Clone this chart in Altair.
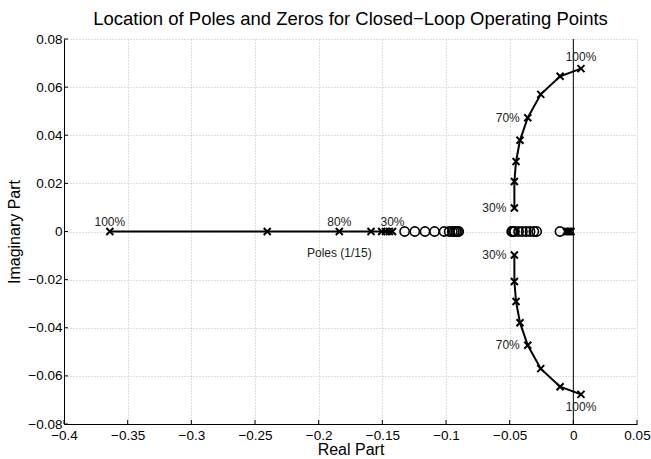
import altair as alt
import pandas as pd

# Operating points (percent load) shared by every pole branch
load_pct = [30, 40, 50, 60, 70, 80, 90, 100]

# Real-axis pole branch
real_pole_re = [-0.1420, -0.1445, -0.1475, -0.1505, -0.1589, -0.1838, -0.2404, -0.3640]

# Complex pole pair (upper half; the lower half is its conjugate)
cplx_pole_re = [-0.0463, -0.0463, -0.0450, -0.0419, -0.0358, -0.0256, -0.0104, 0.0060]
cplx_pole_im = [0.0098, 0.0208, 0.0291, 0.0379, 0.0473, 0.0570, 0.0645, 0.0677]

# Slow poles close to the origin
origin_pole_re = [-0.0055, -0.0045, -0.0035, -0.0025, -0.0018]

# Zeros (all on the real axis)
zero_re = [-0.1325, -0.1245, -0.1165, -0.1090, -0.1015, -0.0975, -0.0950, -0.0935,
           -0.0922, -0.0910, -0.0900,
           -0.0484, -0.0478, -0.0470, -0.0462, -0.0430, -0.0400, -0.0370, -0.0340,
           -0.0310, -0.0288, -0.0105]

# Loads that get a percentage tag on each branch
real_tagged = [30, 80, 100]
cplx_tagged = [30, 70, 100]

x_ticks = [-0.4, -0.35, -0.3, -0.25, -0.2, -0.15, -0.1, -0.05, 0, 0.05]
y_ticks = [-0.08, -0.06, -0.04, -0.02, 0, 0.02, 0.04, 0.06, 0.08]

FONT = "Liberation Sans"
W, H = 573, 385

# ---- tables -------------------------------------------------------------
rows = []
for p, re in zip(load_pct, real_pole_re):
    rows.append({"branch": "real", "load": p, "re": re, "im": 0.0})
for p, re, im in zip(load_pct, cplx_pole_re, cplx_pole_im):
    rows.append({"branch": "upper", "load": p, "re": re, "im": im})
    rows.append({"branch": "lower", "load": p, "re": re, "im": -im})
for i, re in enumerate(origin_pole_re):
    rows.append({"branch": "origin", "load": i, "re": re, "im": 0.0})
poles = pd.DataFrame(rows)
poles["tag"] = poles["load"].astype(str) + "%"

zeros = pd.DataFrame({"re": zero_re, "im": [0.0] * len(zero_re)})

real_tags = poles[(poles.branch == "real") & poles.load.isin(real_tagged)]
up_tags = poles[(poles.branch == "upper") & poles.load.isin(cplx_tagged)]
lo_tags = poles[(poles.branch == "lower") & poles.load.isin(cplx_tagged)]

x_sc = alt.Scale(domain=[-0.4, 0.05], nice=False, zero=False)
y_sc = alt.Scale(domain=[-0.08, 0.08], nice=False, zero=False)

X = alt.X("re:Q", scale=x_sc,
          axis=alt.Axis(values=x_ticks, format="~g", title="Real Part"))
Y = alt.Y("im:Q", scale=y_sc,
          axis=alt.Axis(values=y_ticks, format="~g", title="Imaginary Part"))

base = alt.Chart(poles)

# pole loci
loci = base.mark_line(color="black", strokeWidth=2).encode(
    x=X, y=Y, detail="branch:N", order="load:Q"
)

XMARK = "M-1,-1L1,1M-1,1L1,-1"
pole_pts = base.mark_point(shape=XMARK, filled=False, color="black",
                           strokeWidth=2, size=49, opacity=1).encode(x=X, y=Y)

zero_pts = alt.Chart(zeros).mark_point(shape="circle", filled=False, color="black",
                                       strokeWidth=1.6, size=85, opacity=1).encode(x=X, y=Y)

# imaginary axis
imag_axis = alt.Chart(pd.DataFrame({"re": [0.0]})).mark_rule(
    color="black", strokeWidth=1).encode(x=X)

# inward tick marks
xt = alt.Chart(pd.DataFrame({"re": x_ticks})).mark_rule(color="black").encode(
    x=X, y=alt.value(H), y2=alt.value(H - 4))
yt = alt.Chart(pd.DataFrame({"im": y_ticks})).mark_rule(color="black").encode(
    y=Y, x=alt.value(0), x2=alt.value(4))

txt = dict(font=FONT, fontSize=12, color="#222222")
real_lbl = alt.Chart(real_tags).mark_text(baseline="middle", align="center", dy=-10, **txt).encode(
    x=X, y=Y, text="tag:N")
side_lbl = alt.Chart(pd.concat([up_tags[up_tags.load < 100], lo_tags[lo_tags.load < 100]])).mark_text(
    baseline="middle", align="right", dx=-8, **txt).encode(x=X, y=Y, text="tag:N")
top_lbl = alt.Chart(up_tags[up_tags.load == 100]).mark_text(
    baseline="middle", align="center", dy=-12, **txt).encode(x=X, y=Y, text="tag:N")
bot_lbl = alt.Chart(lo_tags[lo_tags.load == 100]).mark_text(
    baseline="middle", align="center", dy=13, **txt).encode(x=X, y=Y, text="tag:N")
caption = alt.Chart(pd.DataFrame({"re": [-0.1838], "im": [-0.009], "t": ["Poles (1/15)"]})).mark_text(
    baseline="middle", align="center", **txt).encode(x=X, y=Y, text="t:N")

chart = alt.layer(
    imag_axis, xt, yt, loci, zero_pts, pole_pts,
    real_lbl, side_lbl, top_lbl, bot_lbl, caption
).properties(
    width=W, height=H,
    padding={"left": 64, "top": 39, "right": 14, "bottom": 35},
    autosize=alt.AutoSizeParams(type="none"),
    title=alt.TitleParams(
        "Location of Poles and Zeros for Closed\u2212Loop Operating Points",
        font=FONT, fontSize=18.5, fontWeight="normal", color="black",
        anchor="middle", frame="group", offset=4),
).configure_view(
    stroke="transparent"
).configure_axis(
    domainColor="black", domainWidth=1,
    grid=True, gridColor="#bdbdbd", gridDash=[1, 2], gridWidth=1,
    ticks=False, labelFlush=False, labelOverlap=False,
    labelFont=FONT, labelFontSize=13.5, labelColor="black",
    titleFont=FONT, titleFontSize=16, titleFontWeight="normal", titleColor="black",
).configure_axisX(
    labelPadding=4, titlePadding=0
).configure_axisY(
    labelPadding=2, titlePadding=5
)

chart.save("out.html", embed_options={"renderer": "svg", "actions": False})
